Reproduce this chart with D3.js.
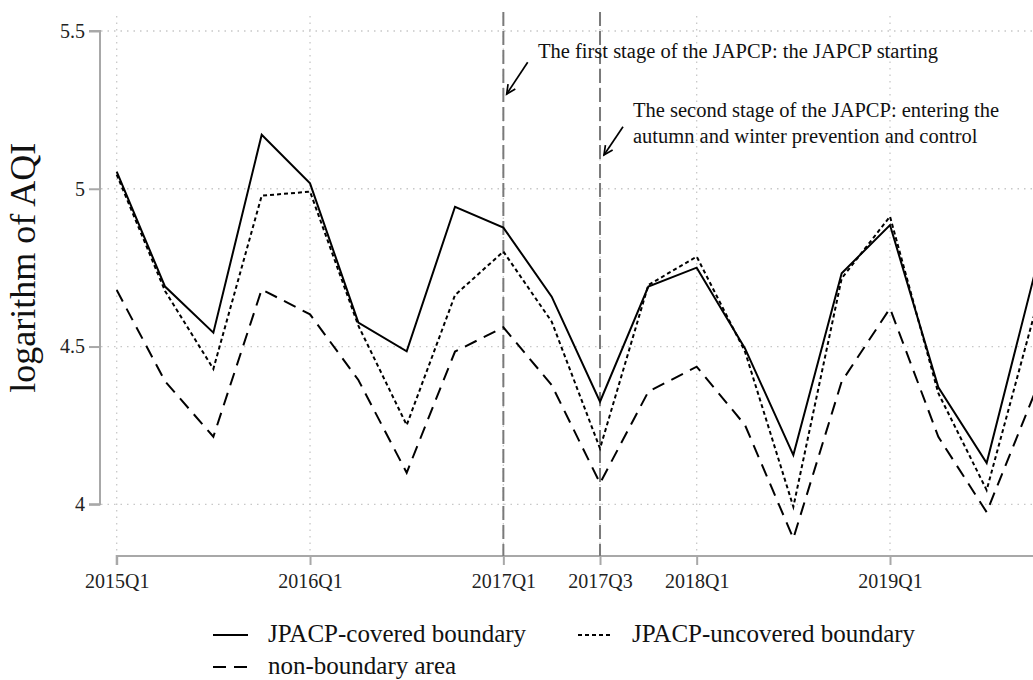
<!DOCTYPE html>
<html>
<head>
<meta charset="utf-8">
<script src="https://cdn.jsdelivr.net/npm/d3@7"></script>
<style>
  html, body { margin: 0; padding: 0; background: #fff; overflow: hidden; }
  svg { display: block; font-family: "Liberation Serif", "Times New Roman", serif; }
</style>
</head>
<body>
<svg id="chart" width="1033" height="680"></svg>
<script>
// Quarterly periods on the x axis
const quarters = [
  "2015Q1","2015Q2","2015Q3","2015Q4",
  "2016Q1","2016Q2","2016Q3","2016Q4",
  "2017Q1","2017Q2","2017Q3","2017Q4",
  "2018Q1","2018Q2","2018Q3","2018Q4",
  "2019Q1","2019Q2","2019Q3","2019Q4"
];

// Log AQI by area type
const covered = [5.054, 4.690, 4.544, 5.171, 5.017, 4.576, 4.485, 4.943, 4.877, 4.658,
                 4.325, 4.690, 4.750, 4.494, 4.156, 4.732, 4.885, 4.371, 4.131, 4.735];
const uncovered = [5.045, 4.676, 4.429, 4.978, 4.991, 4.566, 4.251, 4.663, 4.801, 4.579,
                   4.177, 4.695, 4.785, 4.484, 3.992, 4.716, 4.912, 4.352, 4.045, 4.610];
const nonBoundary = [4.679, 4.390, 4.214, 4.681, 4.602, 4.394, 4.100, 4.484, 4.561, 4.378,
                     4.067, 4.357, 4.436, 4.251, 3.892, 4.389, 4.621, 4.214, 3.975, 4.355];

// Axis ticks
const xTickLabels = ["2015Q1","2016Q1","2017Q1","2017Q3","2018Q1","2019Q1"];
const yTicks = [4, 4.5, 5, 5.5];
const yTickLabels = ["4", "4.5", "5", "5.5"];

// Policy stages marked with vertical lines
const stageQuarters = ["2017Q1", "2017Q3"];

const svg = d3.select("#chart");
const x = d3.scaleLinear().domain([0, quarters.length - 1]).range([116.7, 1035]);
const y = d3.scaleLinear().domain([4, 5.5]).range([504.3, 31]);
const qx = q => x(quarters.indexOf(q));

const gridColor = "#c8c8c8";
const axisColor = "#a8a8a8";

// Gridlines
const grid = svg.append("g");
grid.selectAll("line.hg").data(yTicks).join("line")
  .attr("x1", 101).attr("x2", 1033)
  .attr("y1", d => y(d)).attr("y2", d => y(d))
  .attr("stroke", gridColor).attr("stroke-width", 1.3)
  .attr("stroke-dasharray", "1.5,5");
grid.selectAll("line.vg").data(xTickLabels).join("line")
  .attr("x1", d => qx(d)).attr("x2", d => qx(d))
  .attr("y1", 16).attr("y2", 552)
  .attr("stroke", gridColor).attr("stroke-width", 1.3)
  .attr("stroke-dasharray", "1.5,5");

// Y axis
const yAxis = d3.axisLeft(y).tickValues(yTicks)
  .tickFormat((d, i) => yTickLabels[i]).tickSize(11).tickPadding(4);
const yg = svg.append("g").attr("transform", "translate(100,0)").call(yAxis);
yg.select(".domain").attr("stroke", axisColor).attr("stroke-width", 2)
  .attr("d", `M-11,${y(5.5)}H0V${y(4)}H-11`);
yg.selectAll(".tick line").attr("stroke", axisColor).attr("stroke-width", 2);
yg.selectAll(".tick text").attr("font-size", 20).attr("fill", "#222")
  .attr("font-family", "Liberation Serif, serif");

// X axis
const xAxis = d3.axisBottom(x)
  .tickValues(xTickLabels.map(q => quarters.indexOf(q)))
  .tickFormat(i => quarters[i]).tickSize(9).tickPadding(9);
const xg = svg.append("g").attr("transform", "translate(0,556)").call(xAxis);
xg.select(".domain").attr("stroke", axisColor).attr("stroke-width", 2)
  .attr("d", `M${x(0)},9V0H${x(quarters.length - 1)}`);
xg.selectAll(".tick line").attr("stroke", axisColor).attr("stroke-width", 2);
xg.selectAll(".tick text").attr("font-size", 20).attr("fill", "#222")
  .attr("font-family", "Liberation Serif, serif");

// Stage marker lines
svg.append("g").selectAll("line").data(stageQuarters).join("line")
  .attr("x1", d => qx(d)).attr("x2", d => qx(d))
  .attr("y1", 12).attr("y2", 556)
  .attr("stroke", "#7a7a7a").attr("stroke-width", 2)
  .attr("stroke-dasharray", "14,5");

// Series lines
const series = [
  { values: covered, dash: null },
  { values: uncovered, dash: "4,3" },
  { values: nonBoundary, dash: "13,8" }
];
const line = d3.line().x((d, i) => x(i)).y(d => y(d));
svg.append("g").selectAll("path").data(series).join("path")
  .attr("d", d => line(d.values))
  .attr("fill", "none").attr("stroke", "#000").attr("stroke-width", 2)
  .attr("stroke-linejoin", "miter")
  .attr("stroke-dasharray", d => d.dash);

// Y axis title
svg.append("text")
  .attr("transform", `translate(35,${(y(4) + y(5.5)) / 2}) rotate(-90)`)
  .attr("text-anchor", "middle")
  .attr("font-size", 36).attr("fill", "#111")
  .text("logarithm of AQI");

// Annotations with arrows
const notes = svg.append("g").attr("font-size", 20.5).attr("fill", "#111");
notes.append("text").attr("x", 538).attr("y", 58)
  .text("The first stage of the JAPCP: the JAPCP starting");
notes.append("text").attr("x", 633).attr("y", 117)
  .text("The second stage of the JAPCP: entering the");
notes.append("text").attr("x", 633).attr("y", 143)
  .text("autumn and winter prevention and control");

function arrow(x1, y1, x2, y2) {
  const g = svg.append("g").attr("stroke", "#000").attr("stroke-width", 1.7).attr("fill", "none");
  g.append("line").attr("x1", x1).attr("y1", y1).attr("x2", x2).attr("y2", y2);
  const a = Math.atan2(y2 - y1, x2 - x1);
  const len = 10, spread = 0.45;
  const p1 = [x2 - len * Math.cos(a - spread), y2 - len * Math.sin(a - spread)];
  const p2 = [x2 - len * Math.cos(a + spread), y2 - len * Math.sin(a + spread)];
  g.append("path").attr("d", `M${p1}L${x2},${y2}L${p2}`);
}
arrow(527.7, 62.3, 506.7, 94);
arrow(623, 126.7, 604, 155);

// Legend
const legendItems = [
  { label: "JPACP-covered boundary", dash: null, lx: 213, ly: 635 },
  { label: "JPACP-uncovered boundary", dash: "4,3", lx: 578, ly: 635 },
  { label: "non-boundary area", dash: "13,8", lx: 213, ly: 667 }
];
const lg = svg.append("g");
const li = lg.selectAll("g").data(legendItems).join("g")
  .attr("transform", d => `translate(${d.lx},${d.ly})`);
li.append("line").attr("x1", 0).attr("x2", d => d.dash === "4,3" ? 33 : 35)
  .attr("y1", 0).attr("y2", 0)
  .attr("stroke", "#000").attr("stroke-width", 2)
  .attr("stroke-dasharray", d => d.dash);
li.append("text").attr("x", d => d.dash === "4,3" ? 54 : 55).attr("y", 7)
  .attr("font-size", 25).attr("fill", "#111")
  .text(d => d.label);
</script>
</body>
</html>
